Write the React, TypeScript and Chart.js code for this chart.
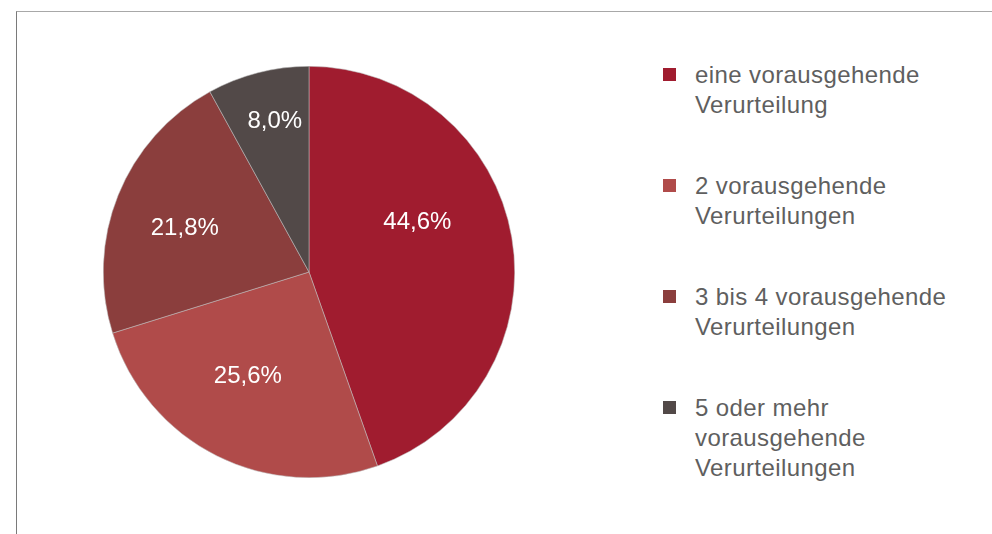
import React, { useEffect, useRef } from "react";
import { Chart, registerables } from "chart.js";

Chart.register(...registerables);

const categories: string[][] = [
  ["eine vorausgehende", "Verurteilung"],
  ["2 vorausgehende", "Verurteilungen"],
  ["3 bis 4 vorausgehende", "Verurteilungen"],
  ["5 oder mehr", "vorausgehende", "Verurteilungen"],
];
const values: number[] = [44.6, 25.6, 21.8, 8.0];
const colors: string[] = ["#a01c2f", "#b04b4a", "#8b3e3d", "#524948"];

// label placement tweaks (angle offset in degrees, radius fraction)
const labelPlacement = [
  { da: -15, f: 0.58 },
  { da: 3.6, f: 0.59 },
  { da: -2.6, f: 0.64 },
  { da: 1.6, f: 0.75 },
];

const fmt = (v: number) => v.toFixed(1).replace(".", ",") + "%";

const labelPlugin = {
  id: "sliceLabels",
  afterDatasetsDraw(chart: any) {
    const meta = chart.getDatasetMeta(0);
    const ctx = chart.ctx;
    ctx.save();
    ctx.fillStyle = "#ffffff";
    ctx.font = '24px "Liberation Sans", Arial, sans-serif';
    ctx.textAlign = "center";
    ctx.textBaseline = "middle";
    meta.data.forEach((arc: any, i: number) => {
      const p = arc.getProps(["x", "y", "startAngle", "endAngle", "outerRadius"], true);
      const place = labelPlacement[i];
      const mid = (p.startAngle + p.endAngle) / 2 + (place.da * Math.PI) / 180;
      const r = p.outerRadius * place.f;
      ctx.fillText(fmt(values[i]), p.x + Math.cos(mid) * r, p.y + Math.sin(mid) * r);
    });
    ctx.restore();
  },
};

export default function App() {
  const ref = useRef<HTMLCanvasElement>(null);
  useEffect(() => {
    if (!ref.current) return;
    const chart = new Chart(ref.current, {
      type: "pie",
      data: {
        labels: categories.map((c) => c.join(" ")),
        datasets: [
          {
            data: values,
            backgroundColor: colors,
            borderColor: "rgba(190,190,190,0.9)",
            borderWidth: 0.6,
          },
        ],
      },
      options: {
        responsive: false,
        animation: false,
        layout: { padding: 0 },
        plugins: {
          legend: { display: false },
          tooltip: { enabled: false },
        },
      },
      plugins: [labelPlugin],
    });
    return () => chart.destroy();
  }, []);

  const itemTops = [60, 171, 282, 393];

  return (
    <div
      style={{
        position: "fixed",
        left: 0,
        top: 0,
        width: 992,
        height: 534,
        overflow: "hidden",
        background: "#ffffff",
        fontFamily: '"Liberation Sans", Arial, sans-serif',
      }}
    >
      <div
        style={{
          position: "absolute",
          left: 16,
          top: 11,
          width: 1000,
          height: 600,
          borderTop: "1px solid #a8a8a8",
          borderLeft: "1px solid #7a7a7a",
        }}
      />
      <canvas
        ref={ref}
        width={412}
        height={412}
        style={{ position: "absolute", left: 103, top: 66, width: 412, height: 412 }}
      />
      {categories.map((lines, i) => (
        <div
          key={i}
          style={{ position: "absolute", left: 663, top: itemTops[i], display: "flex" }}
        >
          <div
            style={{
              width: 13,
              height: 13,
              marginTop: 8,
              background: colors[i],
              flex: "none",
            }}
          />
          <div
            style={{
              marginLeft: 19,
              fontSize: 24,
              lineHeight: "30px",
              color: "#5f5f5f",
              letterSpacing: 0.4,
              whiteSpace: "nowrap",
            }}
          >
            {lines.map((l, j) => (
              <div key={j}>{l}</div>
            ))}
          </div>
        </div>
      ))}
    </div>
  );
}
